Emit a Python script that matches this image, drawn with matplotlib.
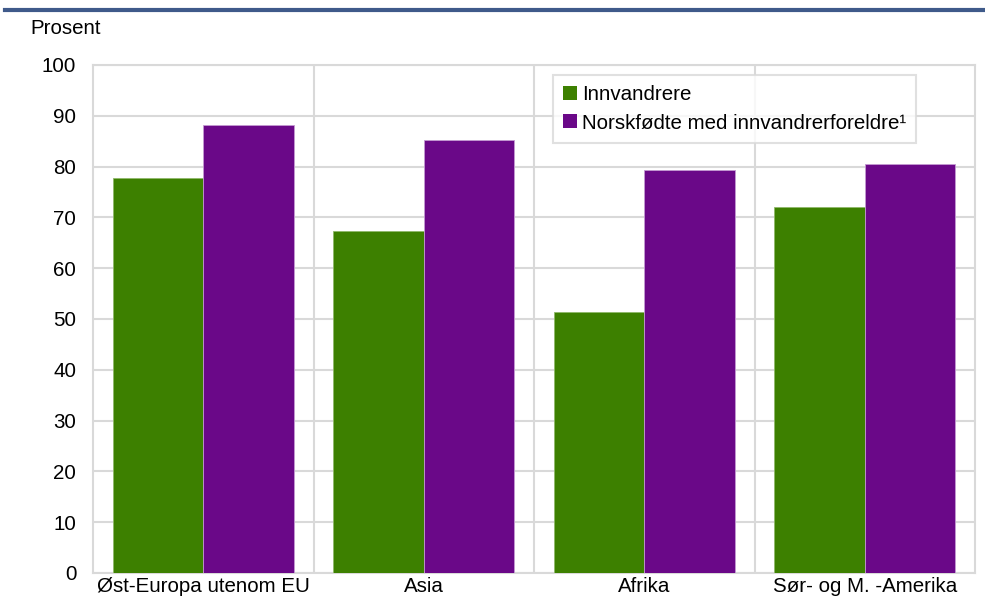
import numpy as np
import matplotlib.pyplot as plt
from matplotlib.lines import Line2D

plt.rcParams['font.family'] = ['Liberation Sans', 'DejaVu Sans']

# Données
categories = ['Øst-Europa utenom EU', 'Asia', 'Afrika', 'Sør- og M. -Amerika']
innvandrere = [77.8, 67.4, 51.3, 72.1]
norskfodte = [88.2, 85.2, 79.3, 80.5]
series_labels = ['Innvandrere', 'Norskfødte med innvandrerforeldre\u00b9']
yticks = list(range(0, 101, 10))

GREEN = '#3d8000'
PURPLE = '#6a0888'
GRID = '#d9d9d9'
FS = 14.8

W, H = 985, 603
fig = plt.figure(figsize=(W / 100, H / 100), dpi=100)
ax = fig.add_axes([93 / W, (H - 573) / H, 882 / W, 508 / H])

x = np.arange(len(categories))
bw = 0.41
ax.bar(x - bw / 2, innvandrere, bw, color=GREEN, edgecolor='#8fb86a', linewidth=0.6,
       label=series_labels[0], zorder=3)
ax.bar(x + bw / 2, norskfodte, bw, color=PURPLE, edgecolor='#c49ad2', linewidth=0.6,
       label=series_labels[1], zorder=3)

ax.set_xlim(-0.5, len(categories) - 0.5)
ax.set_ylim(0, 100)
ax.set_yticks(yticks)
ax.set_xticks(x)
ax.set_xticklabels(categories)
ax.set_xticks(np.arange(len(categories) - 1) + 0.5, minor=True)
ax.tick_params(axis='both', which='both', length=0, labelsize=FS, colors='black')
ax.tick_params(axis='y', pad=12)
ax.tick_params(axis='x', pad=3)
ax.grid(axis='y', which='major', color=GRID, linewidth=1.5, zorder=0)
ax.grid(axis='x', which='minor', color=GRID, linewidth=1.5, zorder=0)
ax.grid(axis='x', which='major', visible=False)
for sp in ax.spines.values():
    sp.set_color(GRID)
    sp.set_linewidth(1.5)

# Légende
leg = ax.legend(loc='upper left', bbox_to_anchor=(553 / W, 1 - 75 / H),
                bbox_transform=fig.transFigure, fontsize=FS, frameon=True,
                fancybox=False, handlelength=0.65, handleheight=0.65,
                handletextpad=0.25, borderpad=0.5, labelspacing=0.45,
                borderaxespad=0)
leg.get_frame().set_edgecolor(GRID)
leg.get_frame().set_linewidth(1.5)
for h in leg.legend_handles:
    h.set_edgecolor('none')

# Unité et ligne de titre
fig.text(30 / W, 1 - 34 / H, 'Prosent', fontsize=FS, ha='left', va='baseline')
fig.add_artist(Line2D([5 / W, 1], [1 - 10 / H, 1 - 10 / H], color='#3f5a8a',
                      linewidth=3, transform=fig.transFigure))

fig.savefig('out.png', dpi=100)
